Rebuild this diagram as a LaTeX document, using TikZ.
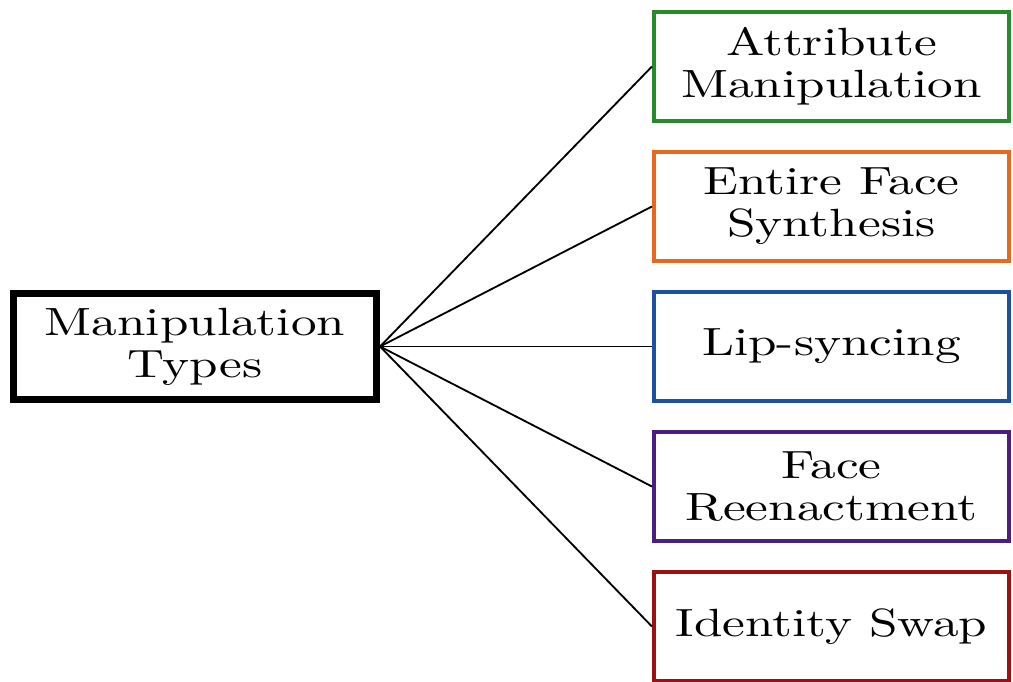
\documentclass[tikz,border=0pt]{standalone}
\usepackage{fontspec}
\usepackage{xcolor}
\usepackage{tikz}
\newfontfamily\boxfont{lmroman10-regular.otf}[FakeStretch=1.3]

\definecolor{attrgreen}{RGB}{40,138,40}
\definecolor{synthorange}{RGB}{232,104,32}
\definecolor{lipblue}{RGB}{30,80,160}
\definecolor{reenactpurple}{RGB}{75,30,130}
\definecolor{swapred}{RGB}{158,16,16}

\begin{document}
\begin{tikzpicture}[x=0.025cm,y=-0.025cm,
  mainbox/.style={draw=black,line width=0.175cm,minimum width=9.075cm,minimum height=2.65cm,
    inner sep=0pt,align=center,font=\boxfont\fontsize{28}{30}\selectfont},
  typebox/.style={draw=#1,line width=0.1cm,minimum width=8.875cm,minimum height=2.725cm,
    inner sep=0pt,align=center,font=\boxfont\fontsize{28}{30}\selectfont}]
  \useasboundingbox[fill=white] (0,0) rectangle (1013,682);

  % Root
  \node[mainbox] (types) at (195,346.5) {Manipulation\\Types};

  % Types
  \node[typebox=attrgreen] (attr) at (831.5,66.5) {Attribute\\Manipulation};
  \node[typebox=synthorange] (synth) at (831.5,206.5) {Entire Face\\Synthesis};
  \node[typebox=lipblue] (lip) at (831.5,346.5) {Lip-syncing};
  \node[typebox=reenactpurple] (reenact) at (831.5,486.5) {Face\\Reenactment};
  \node[typebox=swapred] (swap) at (831.5,626.5) {Identity Swap};

  % Links
  \foreach \t in {attr,synth,lip,reenact,swap}
    \draw[line width=1.3pt] (types.east) -- (\t.west);

\end{tikzpicture}
\end{document}
